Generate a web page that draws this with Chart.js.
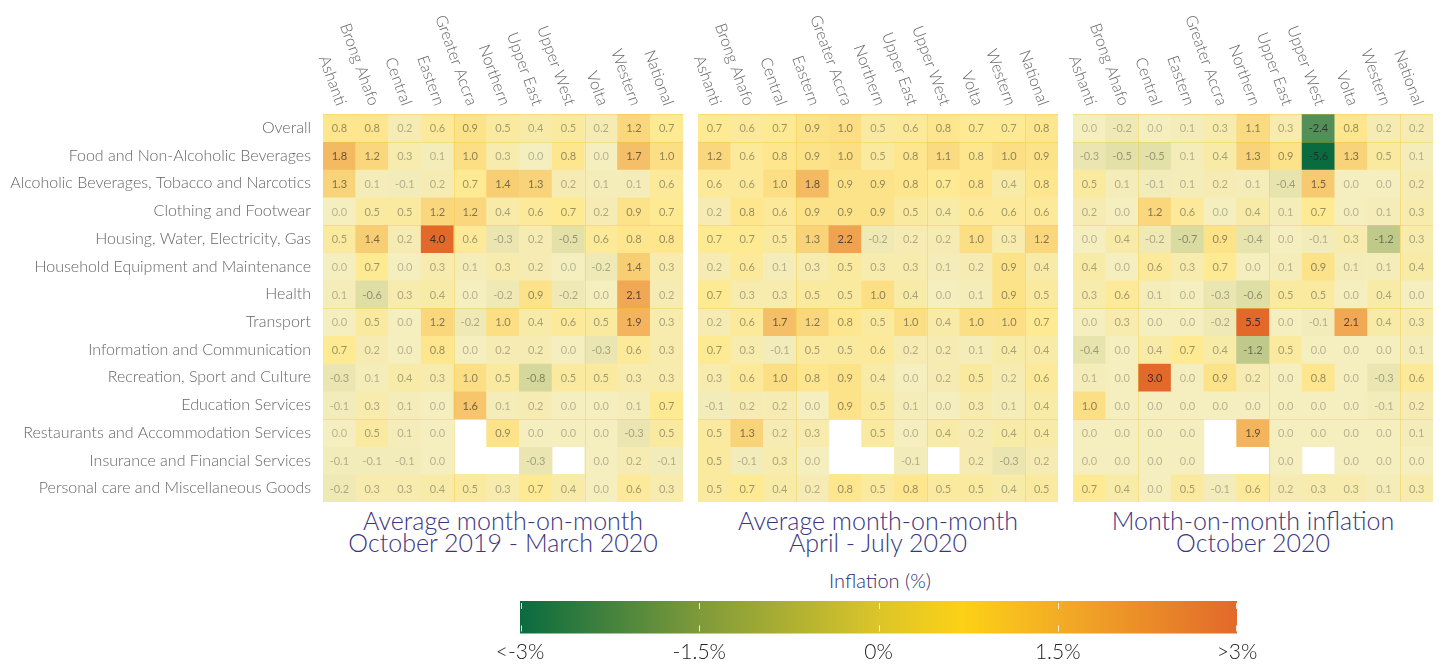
<!DOCTYPE html>
<html lang="en">
<head>
<meta charset="UTF-8">
<title>Ghana regional inflation</title>
<script src="https://cdn.jsdelivr.net/npm/chart.js@4.4.1/dist/chart.umd.min.js"></script>
<style>
  body { margin: 0; background: #fff; width: 1441px; height: 666px; overflow: hidden; position: relative; font-family: Lato, "Open Sans", sans-serif; }
  .box { position: absolute; }
  .ptitle { position: absolute; top: 509px; text-align: center; color: #3b3580; font-size: 25px; font-weight: 300; line-height: 22px; white-space: nowrap; }
  #legendTitle { position: absolute; left: 780px; width: 200px; top: 568px; text-align: center; color: #2e2a78; font-size: 20px; font-weight: 300; }
</style>
</head>
<body>
<div class="box" style="left:0;top:0"><canvas id="p1" width="690" height="505"></canvas></div>
<div class="box" style="left:690px;top:0"><canvas id="p2" width="375" height="505"></canvas></div>
<div class="box" style="left:1065px;top:0"><canvas id="p3" width="376" height="505"></canvas></div>
<div class="ptitle" id="t1" style="left:323px;width:360px"></div>
<div class="ptitle" id="t2" style="left:698px;width:360px"></div>
<div class="ptitle" id="t3" style="left:1073px;width:360px"></div>
<div id="legendTitle">Inflation (%)</div>
<div class="box" style="left:480px;top:565px"><canvas id="scale" width="800" height="101"></canvas></div>

<script>
// ---- data ----
var regions = ['Ashanti', 'Brong Ahafo', 'Central', 'Eastern', 'Greater Accra', 'Northern',
               'Upper East', 'Upper West', 'Volta', 'Western', 'National'];

var categories = ['Overall', 'Food and Non-Alcoholic Beverages', 'Alcoholic Beverages, Tobacco and Narcotics',
  'Clothing and Footwear', 'Housing, Water, Electricity, Gas', 'Household Equipment and Maintenance',
  'Health', 'Transport', 'Information and Communication', 'Recreation, Sport and Culture',
  'Education Services', 'Restaurants and Accommodation Services', 'Insurance and Financial Services',
  'Personal care and Miscellaneous Goods'];

// average month-on-month, Oct 2019 - Mar 2020 (rows = categories, cols = regions)
var octToMar = [
  [0.8, 0.8, 0.2, 0.6, 0.9, 0.5, 0.4, 0.5, 0.2, 1.2, 0.7],
  [1.8, 1.2, 0.3, 0.1, 1.0, 0.3, 0.0, 0.8, 0.0, 1.7, 1.0],
  [1.3, 0.1, -0.1, 0.2, 0.7, 1.4, 1.3, 0.2, 0.1, 0.1, 0.6],
  [0.0, 0.5, 0.5, 1.2, 1.2, 0.4, 0.6, 0.7, 0.2, 0.9, 0.7],
  [0.5, 1.4, 0.2, 4.0, 0.6, -0.3, 0.2, -0.5, 0.6, 0.8, 0.8],
  [0.0, 0.7, 0.0, 0.3, 0.1, 0.3, 0.2, 0.0, -0.2, 1.4, 0.3],
  [0.1, -0.6, 0.3, 0.4, 0.0, -0.2, 0.9, -0.2, 0.0, 2.1, 0.2],
  [0.0, 0.5, 0.0, 1.2, -0.2, 1.0, 0.4, 0.6, 0.5, 1.9, 0.3],
  [0.7, 0.2, 0.0, 0.8, 0.0, 0.2, 0.2, 0.0, -0.3, 0.6, 0.3],
  [-0.3, 0.1, 0.4, 0.3, 1.0, 0.5, -0.8, 0.5, 0.5, 0.3, 0.3],
  [-0.1, 0.3, 0.1, 0.0, 1.6, 0.1, 0.2, 0.0, 0.0, 0.1, 0.7],
  [0.0, 0.5, 0.1, 0.0, null, 0.9, 0.0, 0.0, 0.0, -0.3, 0.5],
  [-0.1, -0.1, -0.1, 0.0, null, null, -0.3, null, 0.0, 0.2, -0.1],
  [-0.2, 0.3, 0.3, 0.4, 0.5, 0.3, 0.7, 0.4, 0.0, 0.6, 0.3]
];

// average month-on-month, Apr - Jul 2020
var aprToJul = [
  [0.7, 0.6, 0.7, 0.9, 1.0, 0.5, 0.6, 0.8, 0.7, 0.7, 0.8],
  [1.2, 0.6, 0.8, 0.9, 1.0, 0.5, 0.8, 1.1, 0.8, 1.0, 0.9],
  [0.6, 0.6, 1.0, 1.8, 0.9, 0.9, 0.8, 0.7, 0.8, 0.4, 0.8],
  [0.2, 0.8, 0.6, 0.9, 0.9, 0.9, 0.5, 0.4, 0.6, 0.6, 0.6],
  [0.7, 0.7, 0.5, 1.3, 2.2, -0.2, 0.2, 0.2, 1.0, 0.3, 1.2],
  [0.2, 0.6, 0.1, 0.3, 0.5, 0.3, 0.3, 0.1, 0.2, 0.9, 0.4],
  [0.7, 0.3, 0.3, 0.5, 0.5, 1.0, 0.4, 0.0, 0.1, 0.9, 0.5],
  [0.2, 0.6, 1.7, 1.2, 0.8, 0.5, 1.0, 0.4, 1.0, 1.0, 0.7],
  [0.7, 0.3, -0.1, 0.5, 0.5, 0.6, 0.2, 0.2, 0.1, 0.4, 0.4],
  [0.3, 0.6, 1.0, 0.8, 0.9, 0.4, 0.0, 0.2, 0.5, 0.2, 0.6],
  [-0.1, 0.2, 0.2, 0.0, 0.9, 0.5, 0.1, 0.0, 0.3, 0.1, 0.4],
  [0.5, 1.3, 0.2, 0.3, null, 0.5, 0.0, 0.4, 0.2, 0.4, 0.4],
  [0.5, -0.1, 0.3, 0.0, null, null, -0.1, null, 0.2, -0.3, 0.2],
  [0.5, 0.7, 0.4, 0.2, 0.8, 0.5, 0.8, 0.5, 0.5, 0.4, 0.5]
];

// month-on-month, Oct 2020
var oct2020 = [
  [0.0, -0.2, 0.0, 0.1, 0.3, 1.1, 0.3, -2.4, 0.8, 0.2, 0.2],
  [-0.3, -0.5, -0.5, 0.1, 0.4, 1.3, 0.9, -5.6, 1.3, 0.5, 0.1],
  [0.5, 0.1, -0.1, 0.1, 0.2, 0.1, -0.4, 1.5, 0.0, 0.0, 0.2],
  [0.2, 0.0, 1.2, 0.6, 0.0, 0.4, 0.1, 0.7, 0.0, 0.1, 0.3],
  [0.0, 0.4, -0.2, -0.7, 0.9, -0.4, 0.0, -0.1, 0.3, -1.2, 0.3],
  [0.4, 0.0, 0.6, 0.3, 0.7, 0.0, 0.1, 0.9, 0.1, 0.1, 0.4],
  [0.3, 0.6, 0.1, 0.0, -0.3, -0.6, 0.5, 0.5, 0.0, 0.4, 0.0],
  [0.0, 0.3, 0.0, 0.0, -0.2, 5.5, 0.0, -0.1, 2.1, 0.4, 0.3],
  [-0.4, 0.0, 0.4, 0.7, 0.4, -1.2, 0.5, 0.0, 0.0, 0.0, 0.1],
  [0.1, 0.0, 3.0, 0.0, 0.9, 0.2, 0.0, 0.8, 0.0, -0.3, 0.6],
  [1.0, 0.0, 0.0, 0.0, 0.0, 0.0, 0.0, 0.0, 0.0, -0.1, 0.2],
  [0.0, 0.0, 0.0, 0.0, null, 1.9, 0.0, 0.0, 0.0, 0.0, 0.1],
  [0.0, 0.0, 0.0, 0.0, null, null, 0.0, null, 0.0, 0.0, 0.0],
  [0.7, 0.4, 0.0, 0.5, -0.1, 0.6, 0.2, 0.3, 0.3, 0.1, 0.3]
];

var panelTitles = [
  ['Average month-on-month', 'October 2019 - March 2020'],
  ['Average month-on-month', 'April - July 2020'],
  ['Month-on-month inflation', 'October 2020']
];

var scaleTicks = [-3, -1.5, 0, 1.5, 3];
var scaleTickLabels = ['<-3%', '-1.5%', '0%', '1.5%', '>3%'];

// ---- colours ----
var colorStops = [
  [-3, [10, 107, 64]], [-1.5, [126, 154, 58]], [0, [220, 197, 42]],
  [0.7, [252, 209, 22]], [1.5, [243, 173, 37]], [3, [226, 105, 42]]
];

function ramp(v) {
  v = Math.max(-3, Math.min(3, v));
  for (var i = 0; i < colorStops.length - 1; i++) {
    var a = colorStops[i], b = colorStops[i + 1];
    if (v <= b[0]) {
      var t = (v - a[0]) / (b[0] - a[0]);
      return a[1].map(function (c, k) { return c + (b[1][k] - c) * t; });
    }
  }
  return colorStops[colorStops.length - 1][1];
}

// paler cells near zero, full colour from about +-3
function cellColor(v) {
  if (v === null) return 'rgba(0,0,0,0)';
  var c = ramp(v);
  var a = Math.min(1, 0.3 + 0.235 * Math.abs(v));
  var m = c.map(function (x) { return Math.round(255 - (255 - x) * a); });
  return 'rgb(' + m.join(',') + ')';
}

function textColor(v) {
  var a = Math.min(0.9, 0.3 + 0.22 * Math.abs(v));
  return 'rgba(40,40,40,' + a.toFixed(2) + ')';
}

Chart.defaults.font.family = 'Lato, "Open Sans", sans-serif';
Chart.defaults.font.weight = 300;

// draws cell values, faint tile seams and the rotated region labels
var heatPlugin = {
  id: 'heat',
  afterDatasetsDraw: function (chart, args, opts) {
    var ctx = chart.ctx, area = chart.chartArea;
    var xs = chart.scales.x, ys = chart.scales.y;
    var colW = xs.getPixelForValue(1) - xs.getPixelForValue(0);
    ctx.save();
    // seams
    ctx.strokeStyle = 'rgba(240,195,40,0.35)';
    ctx.lineWidth = 1;
    opts.vLines.forEach(function (c) {
      var x = Math.round(xs.getPixelForValue(c) - colW / 2) + 0.5;
      ctx.beginPath(); ctx.moveTo(x, area.top); ctx.lineTo(x, area.bottom); ctx.stroke();
    });
    opts.hLines.forEach(function (r) {
      var y = Math.round(ys.getPixelForValue(r)) + 0.5;
      ctx.beginPath(); ctx.moveTo(area.left, y); ctx.lineTo(area.right, y); ctx.stroke();
    });
    // values
    ctx.font = '400 11px Lato, "Open Sans", sans-serif';
    ctx.textAlign = 'center';
    ctx.textBaseline = 'middle';
    chart.data.datasets.forEach(function (ds, di) {
      var meta = chart.getDatasetMeta(di);
      meta.data.forEach(function (el, c) {
        var v = ds.values[c];
        if (v === null) return;
        ctx.fillStyle = textColor(v);
        ctx.fillText(v.toFixed(1), el.x, (el.y + el.base) / 2 + 1);
      });
    });
    // region labels
    ctx.font = '300 16px Lato, "Open Sans", sans-serif';
    ctx.fillStyle = '#666';
    ctx.textAlign = 'right';
    regions.forEach(function (name, c) {
      ctx.save();
      ctx.translate(xs.getPixelForValue(c) + 2, area.top - 9);
      ctx.rotate(70 * Math.PI / 180);
      ctx.fillText(name, 0, 0);
      ctx.restore();
    });
    ctx.restore();
  }
};

function makePanel(id, values, showRows, pad, vLines) {
  var datasets = categories.map(function (cat, r) {
    return {
      label: cat,
      values: values[r],
      data: values[r].map(function (v) { return v === null ? null : [r, r + 1]; }),
      backgroundColor: values[r].map(cellColor),
      borderWidth: 0,
      grouped: false,
      barPercentage: 1,
      categoryPercentage: 1
    };
  });
  return new Chart(document.getElementById(id), {
    type: 'bar',
    data: { labels: regions, datasets: datasets },
    plugins: [heatPlugin],
    options: {
      responsive: false,
      animation: false,
      events: [],
      layout: { padding: pad },
      plugins: {
        legend: { display: false },
        tooltip: { enabled: false },
        heat: { vLines: vLines, hLines: [0, 1, 4, 7, 11] }
      },
      scales: {
        x: { type: 'category', display: false },
        y: {
          type: 'linear', min: 0, max: categories.length, reverse: true,
          display: showRows,
          afterBuildTicks: function (s) {
            s.ticks = categories.map(function (c, i) { return { value: i + 0.5 }; });
          },
          afterFit: function (s) {
            s.width = showRows ? 323 : 0;
            s.paddingTop = 0;
            s.paddingBottom = 0;
          },
          grid: { display: false, drawTicks: false },
          border: { display: false },
          ticks: {
            autoSkip: false,
            padding: 12,
            color: '#666',
            font: { size: 16, weight: 300 },
            callback: function (v, i) { return categories[i]; }
          }
        }
      }
    }
  });
}

makePanel('p1', octToMar, true, { top: 114, right: 7, bottom: 3, left: 0 }, [4, 8]);
makePanel('p2', aprToJul, false, { top: 114, right: 7, bottom: 3, left: 8 }, [3, 7, 10]);
makePanel('p3', oct2020, false, { top: 114, right: 8, bottom: 3, left: 8 }, [2, 6, 10]);

['t1', 't2', 't3'].forEach(function (id, i) {
  document.getElementById(id).innerHTML = panelTitles[i].join('<br>');
});

// colour scale legend
var gradientPlugin = {
  id: 'gradient',
  beforeDatasetsDraw: function (chart) {
    var ctx = chart.ctx, a = chart.chartArea, xs = chart.scales.x;
    var g = ctx.createLinearGradient(a.left, 0, a.right, 0);
    colorStops.forEach(function (s) {
      g.addColorStop((s[0] + 3) / 6, 'rgb(' + s[1].join(',') + ')');
    });
    ctx.save();
    ctx.fillStyle = g;
    ctx.fillRect(a.left, a.top, a.right - a.left, a.bottom - a.top);
    ctx.strokeStyle = 'rgba(255,255,255,0.85)';
    ctx.lineWidth = 1;
    scaleTicks.forEach(function (t, i) {
      var x = Math.round(xs.getPixelForValue(t)) + 0.5;
      if (i === 0) x += 1;
      if (i === scaleTicks.length - 1) x -= 1;
      ctx.beginPath();
      ctx.moveTo(x, a.top + 2); ctx.lineTo(x, a.top + 8);
      ctx.moveTo(x, a.bottom - 8); ctx.lineTo(x, a.bottom - 2);
      ctx.stroke();
    });
    ctx.restore();
  }
};

new Chart(document.getElementById('scale'), {
  type: 'scatter',
  data: { datasets: [{ data: [] }] },
  plugins: [gradientPlugin],
  options: {
    responsive: false,
    animation: false,
    events: [],
    layout: { padding: { top: 36, left: 40, right: 43, bottom: 0 } },
    plugins: { legend: { display: false }, tooltip: { enabled: false } },
    scales: {
      x: {
        type: 'linear', min: -3, max: 3,
        afterBuildTicks: function (s) {
          s.ticks = scaleTicks.map(function (v) { return { value: v }; });
        },
        grid: { display: false, drawTicks: false },
        border: { display: false },
        ticks: {
          padding: 6,
          color: '#222',
          font: { size: 21, weight: 300 },
          callback: function (v, i) { return scaleTickLabels[i]; }
        }
      },
      y: { display: false, min: 0, max: 1 }
    }
  }
});
</script>
</body>
</html>
